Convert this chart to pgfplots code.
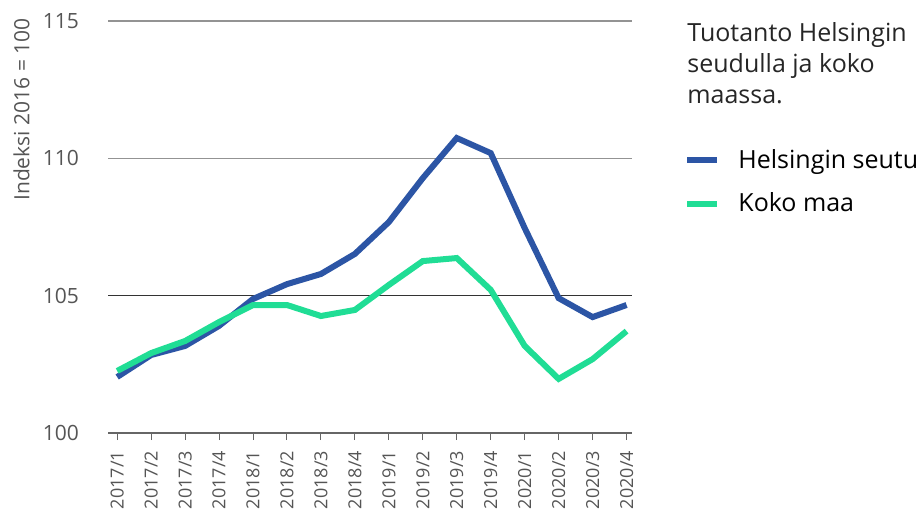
\documentclass[border=0pt]{standalone}
\usepackage{fontspec}
\setmainfont{Open Sans}
\usepackage{pgfplots}
\pgfplotsset{compat=1.18}
\definecolor{hblue}{HTML}{2C55A5}
\definecolor{kgreen}{HTML}{20DD95}
\definecolor{tickgray}{HTML}{555555}
\begin{document}
\begin{tikzpicture}
\path[use as bounding box] (-54pt,-38.5pt) rectangle (408pt,216.5pt);
\begin{axis}[
  at={(0,0)}, anchor=south west,
  scale only axis, width=262pt, height=206pt,
  xmin=-0.27, xmax=15.16, ymin=100, ymax=115,
  ytick={100,105,110,115},
  xtick={0,...,15},
  xticklabels={2017/1,2017/2,2017/3,2017/4,2018/1,2018/2,2018/3,2018/4,2019/1,2019/2,2019/3,2019/4,2020/1,2020/2,2020/3,2020/4},
  axis x line*=bottom,
  axis y line*=left,
  y axis line style={draw=none},
  ytick style={draw=none},
  x axis line style={draw=gray!80!black, line width=0.6pt, -},
  xtick style={draw=gray!80!black, line width=0.5pt},
  tick align=outside,
  major tick length=3.5pt,
  ymajorgrids,
  grid style={draw=gray!85, line width=0.6pt},
  extra y ticks={105},
  extra y tick labels={},
  extra y tick style={grid style={draw=black!80, line width=0.6pt}},
  /pgf/number format/assume math mode=true,
  yticklabel style={font=\fontsize{10.5}{12}\selectfont, text=tickgray, xshift=-7.5pt},
  xticklabel style={font=\fontsize{9}{10}\selectfont, text=tickgray, rotate=90, anchor=east, xshift=-2pt},
  ylabel={Indeksi 2016 = 100},
  ylabel style={font=\fontsize{10.5}{11}\selectfont, text=tickgray, at={(axis description cs:-0.149,1.007)}, anchor=south east, inner sep=0pt},
  legend style={at={(axis description cs:1,0.70)}, anchor=north west, xshift=26pt, draw=none, fill=none, font=\fontsize{12.5}{14}\selectfont, row sep=7pt, inner sep=0pt},
  legend cell align=left,
  legend image code/.code={\draw[#1, line width=3pt] (0pt,0pt) -- (15pt,0pt); \path (22pt,0pt);},
  clip=false,
]
\addplot[hblue, line width=3pt] coordinates {
(0,102.04) (1,102.84) (2,103.17) (3,103.90) (4,104.88) (5,105.42) (6,105.79) (7,106.52)
(8,107.68) (9,109.28) (10,110.74) (11,110.19) (12,107.46) (13,104.91) (14,104.22) (15,104.66)};
\addlegendentry{Helsingin seutu}
\addplot[kgreen, line width=3pt] coordinates {
(0,102.26) (1,102.91) (2,103.35) (3,104.04) (4,104.66) (5,104.66) (6,104.26) (7,104.48)
(8,105.39) (9,106.26) (10,106.37) (11,105.21) (12,103.17) (13,101.97) (14,102.69) (15,103.71)};
\addlegendentry{Koko maa}
\node[anchor=north west, align=left, inner sep=0pt, font=\fontsize{12.5}{15.5}\selectfont, text=black!85]
  at ([xshift=27.5pt, yshift=-0.5pt]rel axis cs:1,1) {Tuotanto Helsingin\\seudulla ja koko\\maassa.};
\end{axis}
\end{tikzpicture}
\end{document}
